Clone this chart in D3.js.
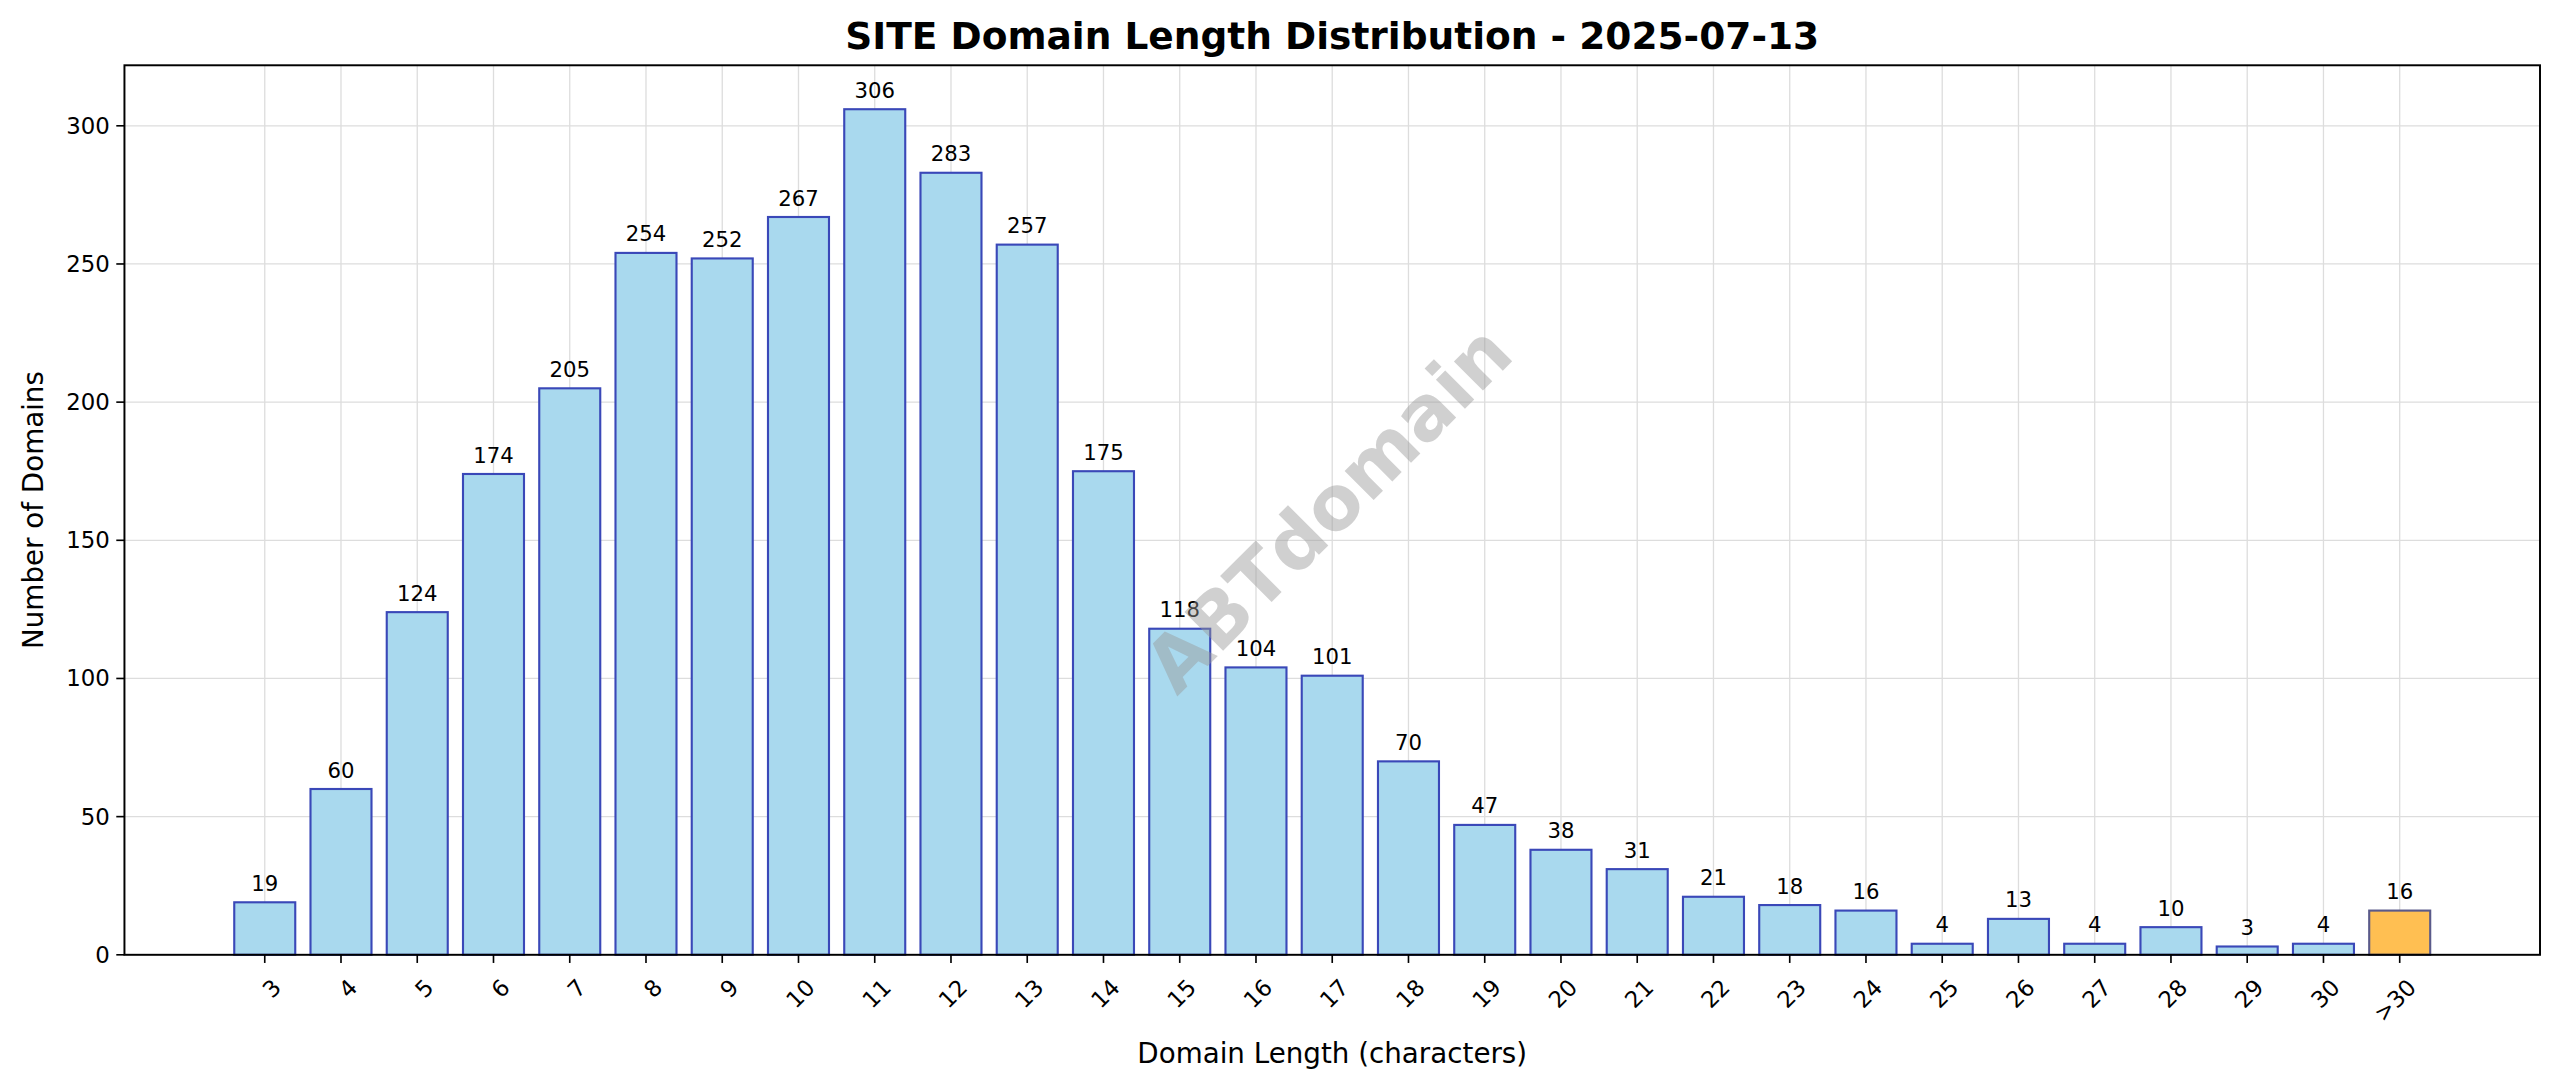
<!DOCTYPE html>
<html><head><meta charset="utf-8">
<script src="https://cdn.jsdelivr.net/npm/d3@7"></script>
<style>body{margin:0;background:#fff}svg{font-family:"DejaVu Sans",sans-serif;display:block}</style>
</head><body>
<svg id="c" width="2560" height="1087" viewBox="0 0 1568 666"></svg>
<script>
const categories=["3","4","5","6","7","8","9","10","11","12","13","14","15","16","17","18","19","20","21","22","23","24","25","26","27","28","29","30",">30"];
const counts=[19,60,124,174,205,254,252,267,306,283,257,175,118,104,101,70,47,38,31,21,18,16,4,13,4,10,3,4,16];
const yTicks=[0,50,100,150,200,250,300];
const svg=d3.select("#c");
const L=76,R=1556,T=40,B=585;
const x=d3.scaleLinear().domain([-1.84,categories.length-1+1.84]).range([L,R]);
const y=d3.scaleLinear().domain([0,321.9]).range([B,T]);
const g=svg.append("g");
g.selectAll(".gy").data(yTicks).join("line").attr("x1",L).attr("x2",R).attr("y1",d=>y(d)).attr("y2",d=>y(d)).attr("stroke","#ddd").attr("stroke-width",0.8);
g.selectAll(".gx").data(categories).join("line").attr("x1",(d,i)=>x(i)).attr("x2",(d,i)=>x(i)).attr("y1",T).attr("y2",B).attr("stroke","#ddd").attr("stroke-width",0.8);
const bw=x(0.8)-x(0);
g.selectAll("rect.b").data(counts).join("rect").attr("x",(d,i)=>x(i)-bw/2).attr("width",bw).attr("y",d=>y(d)).attr("height",d=>B-y(d))
 .attr("fill",(d,i)=>i===categories.length-1?"#ffbf52":"#a9d9ee").attr("stroke",(d,i)=>i===categories.length-1?"#5a5a8a":"#3a48b8").attr("stroke-width",1.3);
g.selectAll("text.v").data(counts).join("text").attr("x",(d,i)=>x(i)).attr("y",d=>y(d)-7).attr("text-anchor","middle").attr("font-size",13).text(d=>d);
svg.append("text").attr("transform","translate(816,314) rotate(-45)").attr("text-anchor","middle").attr("dominant-baseline","middle").attr("font-size",46).attr("font-weight","bold").attr("fill","#999").attr("opacity",0.45).text("ABTdomain");
svg.append("rect").attr("x",L).attr("y",T).attr("width",R-L).attr("height",B-T).attr("fill","none").attr("stroke","#000").attr("stroke-width",1.2);
const ya=svg.append("g");
yTicks.forEach(t=>{ya.append("line").attr("x1",L-5).attr("x2",L).attr("y1",y(t)).attr("y2",y(t)).attr("stroke","#000");
 ya.append("text").attr("x",L-9).attr("y",y(t)).attr("dy","0.35em").attr("text-anchor","end").attr("font-size",14).text(t);});
categories.forEach((c,i)=>{svg.append("line").attr("x1",x(i)).attr("x2",x(i)).attr("y1",B).attr("y2",B+5).attr("stroke","#000");
 svg.append("text").attr("transform",`translate(${x(i)+4},${B+14}) rotate(-45)`).attr("text-anchor","end").attr("dy","0.7em").attr("font-size",14).text(c);});
svg.append("text").attr("x",(L+R)/2).attr("y",30).attr("text-anchor","middle").attr("font-size",23).attr("font-weight","bold").text("SITE Domain Length Distribution - 2025-07-13");
svg.append("text").attr("x",(L+R)/2).attr("y",651).attr("text-anchor","middle").attr("font-size",17).text("Domain Length (characters)");
svg.append("text").attr("transform",`translate(26,${(T+B)/2}) rotate(-90)`).attr("text-anchor","middle").attr("font-size",17).text("Number of Domains");
</script></body></html>
